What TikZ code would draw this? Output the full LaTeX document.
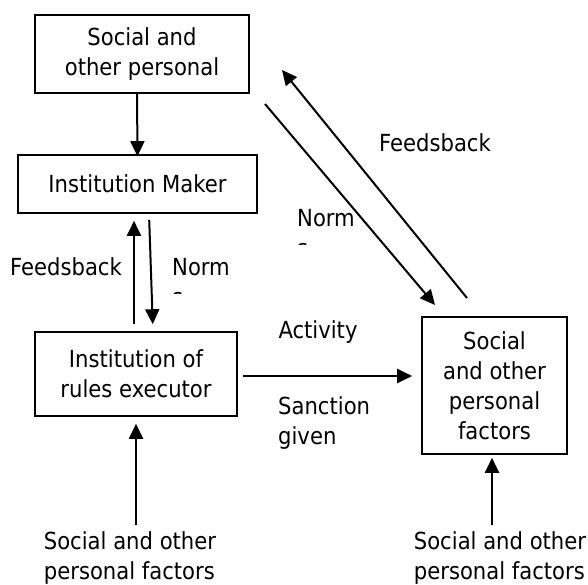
\documentclass[tikz,border=0pt]{standalone}
\usepackage{fontspec}
\setmainfont{DejaVu Sans Condensed}
\usepackage{tikz}
\usetikzlibrary{calc, positioning, arrows.meta}

\begin{document}
\begin{tikzpicture}[x=1pt, y=-1pt,
  font=\fontsize{23.5}{30}\selectfont,
  >={Triangle[length=15pt,width=14pt]},
  unit/.style={draw, line width=1.6pt, align=center, inner sep=2pt},
  lbl/.style={inner sep=0pt, align=left},
  flow/.style={->, line width=2pt}
]
\useasboundingbox (0,0) rectangle (588,585);

\node[unit, minimum width=214pt, minimum height=78pt] (social) at (142,54)
  {Social and\\other personal};
\node[unit, minimum width=239pt, minimum height=58pt] (maker) at (137.5,184)
  {Institution Maker};
\node[unit, minimum width=202pt, minimum height=84pt] (exec) at (136,374)
  {Institution of\\rules executor};
\node[unit, minimum width=145pt, minimum height=137pt] (actor) at (494.5,385.5)
  {Social\\and other\\personal\\factors};

\node[lbl, align=left] (envL) at (130,558) {Social and other\\personal factors};
\node[lbl, align=left] (envR) at (500,558) {Social and other\\personal factors};

% edge labels
\node[lbl] (fbL) at (66,267) {Feedsback};
\node[lbl] (fbR) at (435,143) {Feedsback};
\node[lbl] (act) at (318,332) {Activity};
\node[lbl, anchor=west] (sanc) at (278,423) {Sanction\\given};
\begin{scope}
  \clip (160,245) rectangle (245,293);
  \node[lbl] (normL) at (201,282) {Norm\\s};
\end{scope}
\begin{scope}
  \clip (285,196) rectangle (370,244);
  \node[lbl] (normD) at (326,233) {Norm\\s};
\end{scope}

% free ends of the diagonal pair
\coordinate (fbTail) at (467,298);
\coordinate (fbTip) at (282,70);
\coordinate (nmTail) at (265,104);
\coordinate (nmTip) at (435,305);
\coordinate (actIn) at ([xshift=-2.5pt]actor.south);

\draw[flow] ([xshift=-5pt]social.south) -- ([yshift=-2pt]maker.north);
\draw[flow, shorten <=7pt, shorten >=7pt] ([xshift=-2pt]exec.north) -- ([xshift=-3.5pt]maker.south);
\draw[flow, shorten <=6pt, shorten >=7pt] ([xshift=11.5pt]maker.south) -- ([xshift=17pt]exec.north);
\draw[flow, shorten <=5pt, shorten >=9pt] ([yshift=-2pt]exec.east) -- ([yshift=-2pt]exec.east -| actor.west);
\draw[flow] (fbTail) -- (fbTip);
\draw[flow] (nmTail) -- (nmTip);
\draw[flow, shorten <=6pt, shorten >=7pt] (envL.north -| exec.south) -- (exec.south);
\draw[flow, shorten <=6pt, shorten >=3pt] (envR.north -| actIn) -- (actIn);
\end{tikzpicture}
\end{document}
